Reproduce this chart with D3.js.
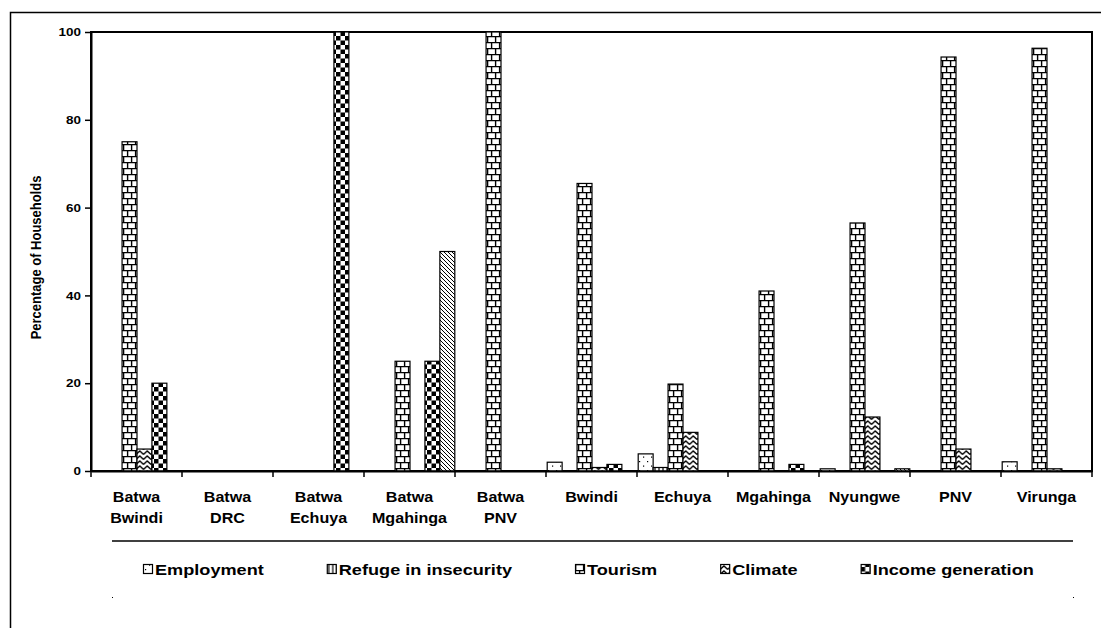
<!DOCTYPE html>
<html><head><meta charset="utf-8">
<script src="https://cdn.jsdelivr.net/npm/d3@7"></script>
<style>html,body{margin:0;padding:0;background:#fff;} svg{display:block;font-family:"Liberation Sans",Arial,sans-serif;}</style>
</head><body><svg id="c" width="1101" height="628"></svg>
<script>
// ---- data ----
const categories = ["Batwa Bwindi","Batwa DRC","Batwa Echuya","Batwa Mgahinga","Batwa PNV","Bwindi","Echuya","Mgahinga","Nyungwe","PNV","Virunga"];
const seriesNames = ["Employment","Refuge in insecurity","Tourism","Climate","Income generation","Other"];
const legendNames = ["Employment","Refuge in insecurity","Tourism","Climate","Income generation"];
const employment = [0,0,0,0,0,2,3.9,0,0.5,0,2.1];
const refuge     = [0,0,0,0,0,0,0.8,0,0,0,0];
const tourism    = [75,0,0,25,100,65.5,19.8,41,56.5,94.3,96.3];
const climate    = [5,0,0,0,0,0.8,8.8,0,12.3,5,0.5];
const income     = [20,0,100,25,0,1.5,0,1.5,0,0,0];
const other      = [0,0,0,50,0,0,0,0,0.5,0,0];
const yTicks = [0,20,40,60,80,100];
const yTitle = "Percentage of Households";

const seriesValues = [employment, refuge, tourism, climate, income, other];
const SX = 1.17; // horizontal stretch of text in reference

(function(){
const svg = d3.select("#c");
svg.append("rect").attr("width",1101).attr("height",628).attr("fill","#fff");

// ---- patterns ----
const defs = svg.append("defs");
function pat(id,w,h){ return defs.append("pattern").attr("id",id).attr("patternUnits","userSpaceOnUse").attr("width",w).attr("height",h); }
let p = pat("p0",8,9); p.append("rect").attr("width",8).attr("height",9).attr("fill","#fff");
p.append("rect").attr("x",2).attr("y",2).attr("width",1.2).attr("height",1.2).attr("fill","#000");
p.append("rect").attr("x",6).attr("y",6.5).attr("width",1.2).attr("height",1.2).attr("fill","#000");
p = pat("p1",4,4); p.append("rect").attr("width",4).attr("height",4).attr("fill","#fff");
p.append("line").attr("x1",2).attr("x2",2).attr("y1",0).attr("y2",4).attr("stroke","#000").attr("stroke-width",1.2);
p = pat("p2",16,12); p.append("rect").attr("width",16).attr("height",12).attr("fill","#fff");
p.append("path").attr("d","M0,0.6H16M0,6.6H16M0.6,0.6V6.6M8.6,0.6V6.6M4.6,6.6V12.6M12.6,6.6V12.6")
  .attr("stroke","#000").attr("stroke-width",1.4).attr("fill","none");
p = pat("p3",7.5,5); p.append("rect").attr("width",7.5).attr("height",5).attr("fill","#fff");
p.append("path").attr("d","M0,4.4L3.75,0.9L7.5,4.4").attr("stroke","#000").attr("stroke-width",1.3).attr("fill","none");
p = pat("p4",9,9); p.append("rect").attr("width",9).attr("height",9).attr("fill","#fff");
p.append("rect").attr("width",4.5).attr("height",4.5).attr("fill","#000");
p.append("rect").attr("x",4.5).attr("y",4.5).attr("width",4.5).attr("height",4.5).attr("fill","#000");
p = pat("p5",4,4); p.append("rect").attr("width",4).attr("height",4).attr("fill","#fff");
p.append("path").attr("d","M-1,-1L5,5M-1,3L1,5M3,-1L5,1").attr("stroke","#000").attr("stroke-width",1);

// ---- outer frame ----
svg.append("rect").attr("x",10.5).attr("y",12.5).attr("width",1300).attr("height",800)
  .attr("fill","none").attr("stroke","#000").attr("stroke-width",1.5);

// ---- scales ----
const pLeft = 91, pRight = 1092, pTop = 32, pBottom = 471;
const x0 = d3.scaleBand().domain(categories).range([pLeft,pRight]).padding(0);
const x1 = d3.scaleBand().domain(d3.range(seriesNames.length)).range([1.2, x0.bandwidth()-0.2]).padding(0);
const y = d3.scaleLinear().domain([0,100]).range([pBottom,pTop]);

svg.append("rect").attr("x",pLeft).attr("y",pTop).attr("width",pRight-pLeft).attr("height",pBottom-pTop)
  .attr("fill","none").attr("stroke","#000").attr("stroke-width",2);

// ---- bars ----
const groups = svg.append("g").selectAll("g").data(categories).join("g")
  .attr("transform",c=>`translate(${x0(c)},0)`);
groups.selectAll("rect").data((c,ci)=>seriesValues.map((vals,si)=>({si, v: vals[ci]})).filter(d=>d.v>0))
  .join("rect")
  .attr("x",d=>x1(d.si)).attr("width",x1.bandwidth())
  .attr("y",d=>y(d.v)).attr("height",d=>y(0)-y(d.v))
  .attr("fill",d=>`url(#p${d.si})`).attr("stroke","#000").attr("stroke-width",1.2);

// ---- y axis ----
const ya = svg.append("g").attr("transform",`translate(${pLeft},0)`)
  .call(d3.axisLeft(y).tickValues(yTicks).tickFormat(d3.format("d")).tickSize(6).tickSizeOuter(0));
ya.select(".domain").attr("stroke-width",2);
ya.selectAll(".tick line").attr("stroke-width",1.5);
ya.selectAll(".tick text").attr("x",0).attr("transform",`translate(-10,0) scale(${SX},1)`)
  .attr("font-size",11.5).attr("font-weight","bold").attr("fill","#000")
  .attr("font-family",'"Liberation Sans",Arial,sans-serif');

// ---- x axis ----
const xa = svg.append("g").attr("transform",`translate(0,${pBottom})`)
  .call(d3.axisBottom(x0).tickSize(0).tickSizeOuter(0).tickFormat(""));
xa.select(".domain").attr("stroke-width",2);
xa.selectAll("line.bnd").data(categories.concat(["__end"])).join("line").attr("class","bnd")
  .attr("x1",(c,i)=> i<categories.length ? x0(c) : pRight).attr("x2",(c,i)=> i<categories.length ? x0(c) : pRight)
  .attr("y1",0).attr("y2",6).attr("stroke","#000").attr("stroke-width",1.5);
categories.forEach(c=>{
  const parts = c.startsWith("Batwa ") ? ["Batwa", c.slice(6)] : [c];
  const cx = x0(c) + x0.bandwidth()/2;
  parts.forEach((t,i)=>{
    svg.append("text").attr("transform",`translate(${cx},${502+i*21}) scale(1.15,1)`)
      .attr("text-anchor","middle").attr("font-size",14).attr("font-weight","bold").text(t);
  });
});

// ---- y title ----
svg.append("text").attr("transform",`translate(41,${(pTop+pBottom)/2+6}) scale(${SX},1) rotate(-90)`)
  .attr("text-anchor","middle").attr("font-size",13).attr("font-weight","bold").text(yTitle);

// ---- legend ----
svg.append("line").attr("x1",112).attr("x2",1073).attr("y1",541).attr("y2",541).attr("stroke","#000").attr("stroke-width",1.5);
svg.append("rect").attr("x",112).attr("y",597).attr("width",1).attr("height",1).attr("fill","#000");
svg.append("rect").attr("x",1073).attr("y",597).attr("width",1).attr("height",1).attr("fill","#000");
let lx = 143;
legendNames.forEach((name,i)=>{
  const g = svg.append("g").attr("transform",`translate(${lx},0)`);
  g.append("rect").attr("x",0.5).attr("y",564.5).attr("width",9).attr("height",9)
    .attr("fill",`url(#p${i})`).attr("stroke","#000").attr("stroke-width",1.2);
  const t = g.append("text").attr("transform",`translate(12,575) scale(${SX},1)`)
    .attr("font-size",15.5).attr("font-weight","bold").text(name);
  const w = t.node().getComputedTextLength()*SX;
  lx += 12 + w + 63;
});
})();
</script></body></html>
